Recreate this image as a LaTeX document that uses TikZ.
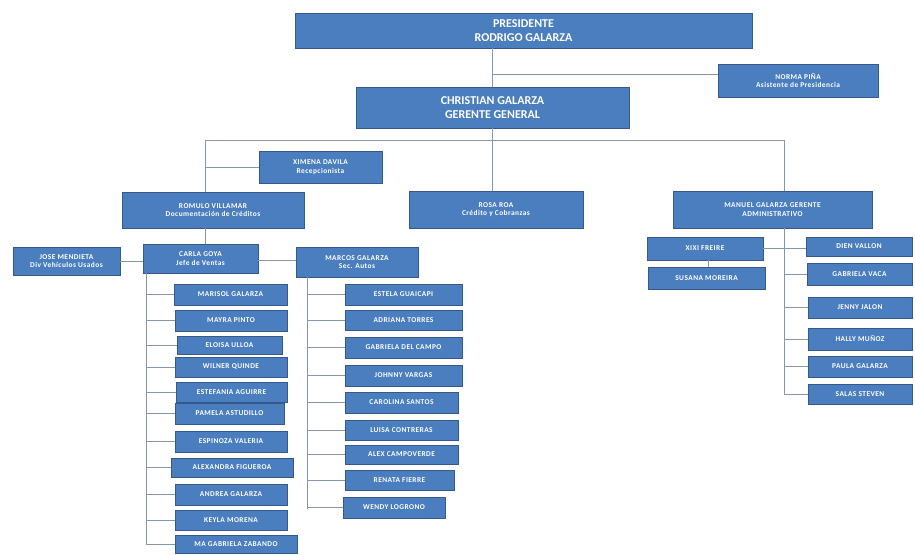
\documentclass[tikz,border=0pt]{standalone}
\usepackage{fontspec}
\setmainfont{Carlito}
\newfontfamily\spacedfont[LetterSpace=6]{Carlito}
\definecolor{boxblue}{HTML}{4A7EBF}
\definecolor{boxedge}{HTML}{35598A}
\definecolor{linegray}{HTML}{8496B0}
\tikzset{
  box/.style={draw=boxedge, fill=boxblue, line width=0.9pt, text=white, inner sep=0pt, align=center,
    font=\spacedfont\bfseries\fontsize{7.4}{8.6}\selectfont},
  bigbox/.style={box, font=\bfseries\fontsize{12}{14.5}\selectfont},
  conn/.style={draw=linegray, line width=1pt}
}
\newcommand{\obox}[7][]{%
  \node[box,#1,minimum width={#4pt-#3pt},minimum height={#6pt-#5pt}] (#2) at ({(#3+#4)/2},{(#5+#6)/2}) {#7};}
\begin{document}
\begin{tikzpicture}[x=1pt,y=-1pt]
\useasboundingbox[fill=white] (0,0) rectangle (915,554);
% coordinates for trunks
\coordinate (tl) at (205,140);
\coordinate (tm) at (492,140);
\coordinate (tr) at (784,140);
\coordinate (ct) at (146,545);
\coordinate (mt) at (307,509);
\coordinate (rt) at (784,394);
\coordinate (ny) at (0,74);
\coordinate (my) at (0,260);
\coordinate (sx) at (708,0);

% top level
\obox[bigbox]{pres}{295}{752}{13}{48}{PRESIDENTE\\RODRIGO GALARZA}
\obox{norma}{718}{878}{64}{97}{NORMA PIÑA\\Asistente de Presidencia}
\obox[bigbox]{chris}{356}{629}{87}{128}{CHRISTIAN GALARZA\\GERENTE GENERAL}
\obox{ximena}{259}{382}{151}{183}{XIMENA DAVILA\\Recepcionista}
\obox{romulo}{122}{304}{192}{228}{ROMULO VILLAMAR\\Documentación de Créditos}
\obox{rosa}{409}{583}{191}{228}{ROSA ROA\\Crédito y Cobranzas}
\obox{manuel}{673}{872}{191}{228}{MANUEL GALARZA GERENTE\\ADMINISTRATIVO}
\obox{jose}{13}{120}{247}{275}{JOSE MENDIETA\\Div Vehículos Usados}
\obox{carla}{143}{258}{244}{273}{CARLA GOYA\\Jefe de Ventas}
\obox{marcos}{296}{418}{247}{277}{MARCOS GALARZA\\Sec. Autos}

% Carla team
\obox{c1}{174}{287}{284}{305}{MARISOL GALARZA}
\obox{c2}{175}{287}{310}{331}{MAYRA PINTO}
\obox{c3}{177}{282}{336}{354}{ELOISA ULLOA}
\obox{c4}{175}{287}{357}{377}{WILNER QUINDE}
\obox{c5}{176}{287}{382}{402}{ESTEFANIA AGUIRRE}
\obox{c6}{175}{284}{403}{424}{PAMELA ASTUDILLO}
\obox{c7}{175}{287}{431}{452}{ESPINOZA VALERIA}
\obox{c8}{171}{293}{458}{477}{ALEXANDRA FIGUEROA}
\obox{c9}{175}{287}{484}{505}{ANDREA GALARZA}
\obox{c10}{175}{287}{510}{530}{KEYLA MORENA}
\obox{c11}{175}{297}{535}{553}{MA GABRIELA ZABANDO}

% Marcos team
\obox{m1}{345}{462}{284}{305}{ESTELA GUAICAPI}
\obox{m2}{345}{462}{310}{330}{ADRIANA TORRES}
\obox{m3}{345}{462}{337}{358}{GABRIELA DEL CAMPO}
\obox{m4}{345}{462}{365}{386}{JOHNNY VARGAS}
\obox{m5}{345}{458}{392}{413}{CAROLINA SANTOS}
\obox{m6}{345}{458}{420}{440}{LUISA CONTRERAS}
\obox{m7}{345}{458}{445}{464}{ALEX CAMPOVERDE}
\obox{m8}{345}{454}{470}{490}{RENATA FIERRE}
\obox{m9}{343}{445}{497}{518}{WENDY LOGRONO}

% right side
\obox{xixi}{647}{763}{237}{260}{XIXI FREIRE}
\obox{susana}{648}{765}{267}{289}{SUSANA MOREIRA}
\obox{r1}{806}{912}{237}{256}{DIEN VALLON}
\obox{r2}{807}{912}{263}{285}{GABRIELA VACA}
\obox{r3}{808}{912}{297}{318}{JENNY JALON}
\obox{r4}{808}{912}{328}{350}{HALLY MUÑOZ}
\obox{r5}{808}{912}{356}{377}{PAULA GALARZA}
\obox{r6}{808}{912}{384}{404}{SALAS STEVEN}

% connectors
\draw[conn] (pres.south -| tm) -- (chris.north -| tm);
\draw[conn] (tm |- ny) -- (norma.west |- ny);
\draw[conn] (chris.south -| tm) -- (tm);
\draw[conn] (tl) -- (tr);
\draw[conn] (tl) -- (romulo.north -| tl);
\draw[conn] (tl |- ximena.west) -- (ximena.west);
\draw[conn] (tm) -- (rosa.north -| tm);
\draw[conn] (tr) -- (manuel.north -| tr);
\draw[conn] (romulo.south -| tl) -- (carla.north -| tl);
\draw[conn] (jose.east) -- (jose.east -| carla.west);
\draw[conn] (carla.east |- my) -- (marcos.west |- my);
\draw[conn] (carla.south -| ct) -- (ct);
\foreach \n in {c1,c2,c3,c4,c5,c6,c7,c8,c9,c10,c11}
  \draw[conn] (ct |- \n.west) -- (\n.west);
\draw[conn] (marcos.south -| mt) -- (mt);
\foreach \n in {m1,m2,m3,m4,m5,m6,m7,m8,m9}
  \draw[conn] (mt |- \n.west) -- (\n.west);
\draw[conn] (manuel.south -| rt) -- (rt);
\draw[conn] (xixi.east) -- (xixi.east -| r1.west);
\foreach \n in {r2,r3,r4,r5,r6}
  \draw[conn] (rt |- \n.west) -- (\n.west);
\draw[conn] (xixi.south -| sx) -- (susana.north -| sx);
\end{tikzpicture}
\end{document}
